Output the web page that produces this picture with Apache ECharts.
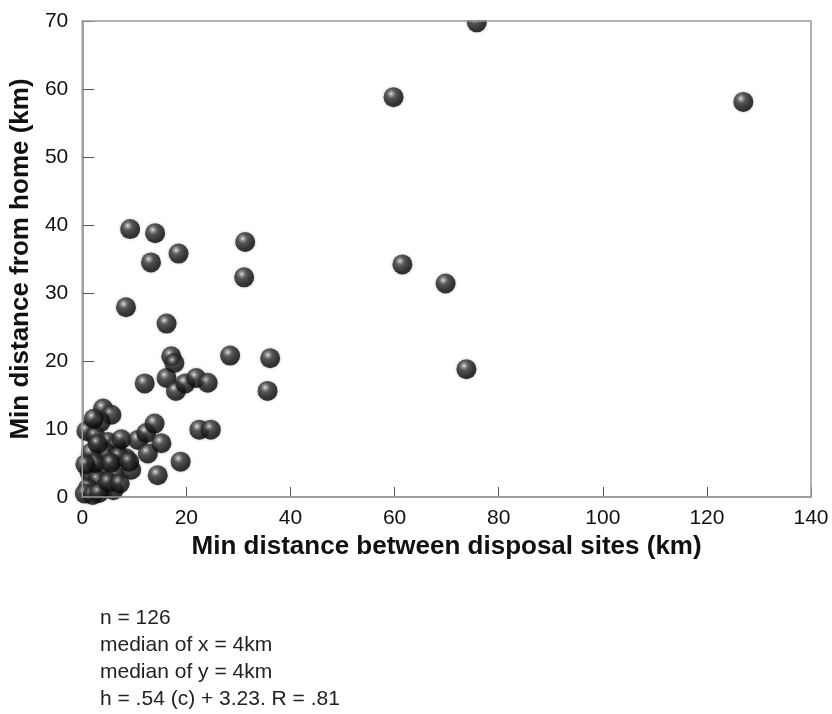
<!DOCTYPE html>
<html>
<head>
<meta charset="utf-8">
<script src="https://cdn.jsdelivr.net/npm/echarts@6/dist/echarts.min.js"></script>
<style>
  html, body { margin: 0; padding: 0; background: #fff; }
  #main { width: 832px; height: 714px; }
</style>
</head>
<body>
<div id="main"></div>
<script>
// axis ticks
var xTicks = [0, 20, 40, 60, 80, 100, 120, 140];
var yTicks = [0, 10, 20, 30, 40, 50, 60, 70];

// min distance between disposal sites (km)
var siteDist = [
  4.0, 5.6, 3.5, 0.8, 2.5, 4.9, 6.5, 1.7, 4.6, 3.0,
  8.4, 7.0, 1.4, 4.3, 6.2, 3.0, 4.3, 1.1, 2.5, 5.5,
  0.5, 2.0, 6.0, 9.4, 7.5, 0.6, 3.2, 5.0, 7.2, 2.2,
  10.7, 12.3, 13.9, 15.2, 12.6, 18.9, 14.5, 22.5, 24.7, 9.0,
  12.0, 16.2, 18.0, 19.8, 21.9, 24.1, 35.6, 17.1, 17.7, 28.4,
  36.1, 16.2, 8.4, 31.1, 31.3, 13.2, 18.5, 14.0, 9.2,
  75.8, 59.8, 127.0, 61.5, 69.8, 73.8
];
// min distance from home (km)
var homeDist = [
  13.0, 12.1, 11.0, 9.7, 9.0, 8.1, 7.5, 6.5, 6.5, 7.8,
  5.7, 6.0, 3.7, 4.0, 3.2, 2.5, 1.3, 1.3, 5.0, 5.0,
  0.5, 0.3, 1.0, 4.0, 8.5, 4.8, 0.6, 2.2, 2.0, 11.5,
  8.4, 9.4, 10.8, 7.9, 6.4, 5.2, 3.2, 9.9, 9.9, 5.2,
  16.7, 17.5, 15.6, 16.7, 17.5, 16.8, 15.6, 20.7, 19.7, 20.8,
  20.4, 25.5, 27.9, 32.3, 37.5, 34.5, 35.8, 38.8, 39.4,
  69.8, 58.8, 58.1, 34.2, 31.4, 18.8
];

var notes = [
  'n = 126',
  'median of x = 4km',
  'median of y = 4km',
  'h = .54 (c) + 3.23. R = .81'
];

var points = siteDist.map(function (x, i) { return [x, homeDist[i]]; });

var chart = echarts.init(document.getElementById('main'));
var font = 'Liberation Sans, Arial, sans-serif';

var ball = new echarts.graphic.RadialGradient(0.38, 0.33, 0.68, [
  { offset: 0, color: '#f6f6f6' },
  { offset: 0.12, color: '#9a9a9a' },
  { offset: 0.35, color: '#3a3a3a' },
  { offset: 0.75, color: '#121212' },
  { offset: 1, color: '#050505' }
]);

var option = {
  backgroundColor: '#fff',
  animation: false,
  grid: {
    left: 81,
    right: 21,
    top: 21,
    bottom: 217,
    show: true,
    borderColor: '#9a9a9a',
    borderWidth: 1.5,
    z: 10
  },
  xAxis: {
    type: 'value',
    min: xTicks[0],
    max: xTicks[xTicks.length - 1],
    interval: 20,
    name: 'Min distance between disposal sites (km)',
    nameLocation: 'middle',
    nameGap: 32,
    nameTextStyle: { fontFamily: font, fontSize: 26, fontWeight: 'bold', color: '#111' },
    axisLine: { lineStyle: { color: '#8a8a8a', width: 1.5 } },
    axisTick: { inside: true, length: 10, lineStyle: { color: '#555' } },
    axisLabel: { fontFamily: font, fontSize: 21, color: '#111', margin: 11 },
    splitLine: { show: false }
  },
  yAxis: {
    type: 'value',
    min: yTicks[0],
    max: yTicks[yTicks.length - 1],
    interval: 10,
    name: 'Min distance from home (km)',
    nameLocation: 'middle',
    nameGap: 47,
    nameTextStyle: { fontFamily: font, fontSize: 26, fontWeight: 'bold', color: '#111' },
    axisLine: { lineStyle: { color: '#8a8a8a', width: 1.5 } },
    axisTick: { inside: true, length: 12, lineStyle: { color: '#555' } },
    axisLabel: { fontFamily: font, fontSize: 21, color: '#111', margin: 14 },
    splitLine: { show: false }
  },
  series: [{
    type: 'scatter',
    symbolSize: 20,
    itemStyle: {
      color: ball,
      shadowBlur: 3,
      shadowColor: 'rgba(0,0,0,0.3)'
    },
    data: points
  }],
  graphic: [{
    // blank band above the plot frame, hides the part of a ball that sticks out
    type: 'rect',
    z: 5,
    shape: { x: 81, y: 0, width: 740, height: 20 },
    style: { fill: '#fff' }
  }, {
    type: 'text',
    left: 100,
    top: 605,
    style: {
      text: notes.join('\n'),
      font: '21px ' + font,
      fill: '#222',
      lineHeight: 27
    }
  }]
};

chart.setOption(option);
</script>
</body>
</html>
